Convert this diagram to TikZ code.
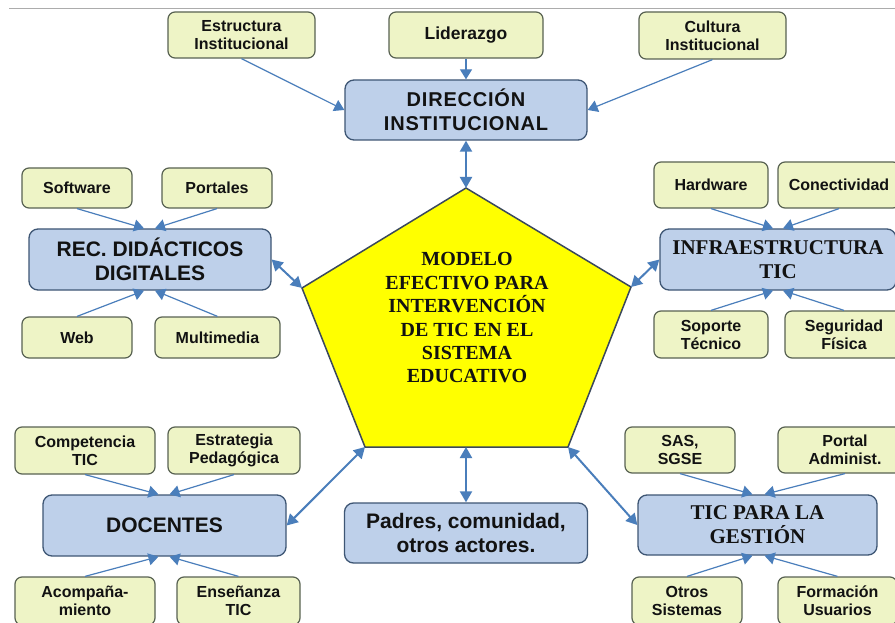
\documentclass[tikz,border=0pt]{standalone}
\usepackage{fontspec}
\setmainfont{Liberation Sans}
\newfontfamily\serifb{Liberation Serif}
\newfontfamily\spaced{Liberation Sans}[LetterSpace=4]
\usetikzlibrary{arrows.meta}
\definecolor{smallfill}{RGB}{238,244,198}
\definecolor{smallline}{RGB}{88,98,82}
\definecolor{bigfill}{RGB}{190,208,234}
\definecolor{bigline}{RGB}{62,86,116}
\definecolor{penta}{RGB}{255,255,0}
\definecolor{pentaline}{RGB}{58,72,92}
\definecolor{arrowc}{RGB}{74,126,187}
\definecolor{txt}{RGB}{18,18,18}
\tikzset{
  smallbox/.style={draw=smallline, fill=smallfill, rounded corners=7pt, line width=1.2pt,
    font=\bfseries\fontsize{16}{18}\selectfont, text=txt, align=center, inner sep=0pt},
  bigbox/.style={draw=bigline, fill=bigfill, rounded corners=9pt, line width=1.3pt,
    font=\bfseries\fontsize{21}{24}\selectfont, text=txt, align=center, inner sep=0pt},
  serifbig/.style={font=\serifb\bfseries\fontsize{21}{24}\selectfont},
  feed/.style={draw=arrowc, line width=1.2pt, -{Triangle[length=10pt,width=12pt]}},
  link/.style={draw=arrowc, line width=2pt, {Triangle[length=11pt,width=12pt]}-{Triangle[length=11pt,width=12pt]}}
}
\begin{document}
\begin{tikzpicture}[x=1pt,y=-1pt]
\useasboundingbox (0,0) rectangle (895,623);
\fill[white] (0,0) rectangle (895,623);
\draw[gray!65, line width=1pt] (9,9) -- (895,9);

% pentagon
\coordinate (p1) at (466,188);
\coordinate (p2) at (302,288);
\coordinate (p3) at (631,287);
\coordinate (p4) at (365,447);
\coordinate (p5) at (568,447);
\coordinate (pb) at (466,447);
\filldraw[fill=penta, draw=pentaline, line width=1.5pt, line join=miter] (p1) -- (p3) -- (p5) -- (p4) -- (p2) -- cycle;
\node[font=\serifb\bfseries\fontsize{20}{23.4}\selectfont, text=txt, align=center] (model) at (467,318)
  {MODELO\\EFECTIVO PARA\\INTERVENCIÓN\\DE TIC EN EL\\SISTEMA\\EDUCATIVO};

% top group
\node[smallbox, minimum width=147pt, minimum height=46pt] (est) at (241.5,35) {Estructura\\Institucional};
\node[smallbox, minimum width=154pt, minimum height=46pt, font=\bfseries\fontsize{17.5}{20}\selectfont] (lid) at (466,35) {Liderazgo};
\node[smallbox, minimum width=147pt, minimum height=47pt] (cul) at (712.5,35.5) {Cultura\\Institucional};
\node[bigbox, minimum width=242pt, minimum height=60pt, font=\spaced\bfseries\fontsize{20}{24}\selectfont] (dir) at (466,110) {DIRECCIÓN\\INSTITUCIONAL};

% left group
\node[smallbox, minimum width=110pt, minimum height=40pt] (sw) at (77,188) {Software};
\node[smallbox, minimum width=110pt, minimum height=40pt] (por) at (217,188) {Portales};
\node[bigbox, minimum width=242pt, minimum height=61pt] (rec) at (150,259.5) {REC. DIDÁCTICOS\\DIGITALES};
\node[smallbox, minimum width=110pt, minimum height=41pt] (web) at (77,337.5) {Web};
\node[smallbox, minimum width=125pt, minimum height=41pt] (mul) at (217.5,337.5) {Multimedia};

% right group
\node[smallbox, minimum width=114pt, minimum height=46pt] (hw) at (711,185) {Hardware};
\node[smallbox, minimum width=122pt, minimum height=46pt] (con) at (839,185) {Conectividad};
\node[bigbox, serifbig, minimum width=236pt, minimum height=61pt] (inf) at (778,259.5) {INFRAESTRUCTURA\\TIC};
\node[smallbox, minimum width=114pt, minimum height=47pt] (sop) at (711,334.5) {Soporte\\Técnico};
\node[smallbox, minimum width=118pt, minimum height=47pt] (seg) at (844,334.5) {Seguridad\\Física};

% bottom-left group
\node[smallbox, minimum width=140pt, minimum height=47pt] (comp) at (85,450.5) {Competencia\\TIC};
\node[smallbox, minimum width=132pt, minimum height=47pt] (estr) at (234,450.5) {Estrategia\\Pedagógica};
\node[bigbox, minimum width=243pt, minimum height=61pt] (doc) at (164.5,525.5) {DOCENTES};
\node[smallbox, minimum width=140pt, minimum height=48pt] (aco) at (85,601) {Acompaña-\\miento};
\node[smallbox, minimum width=123pt, minimum height=48pt] (ens) at (238.5,601) {Enseñanza\\TIC};

% bottom-middle
\node[bigbox, minimum width=243pt, minimum height=60pt] (pad) at (466,533) {Padres, comunidad,\\otros actores.};

% bottom-right group
\node[smallbox, minimum width=110pt, minimum height=46pt] (sas) at (680,450) {SAS,\\SGSE};
\node[smallbox, minimum width=134pt, minimum height=46pt] (pa) at (845,450) {Portal\\Administ.};
\node[bigbox, serifbig, minimum width=239pt, minimum height=60pt] (gest) at (757.5,525) {TIC PARA LA\\GESTIÓN};
\node[smallbox, minimum width=110pt, minimum height=48pt] (otr) at (687,601) {Otros\\Sistemas};
\node[smallbox, minimum width=119pt, minimum height=48pt] (for) at (837.5,601) {Formación\\Usuarios};

% feeder arrows
\draw[feed] (est.south) -- (dir.west);
\draw[feed] (lid.south) -- (dir.north);
\draw[feed] (cul.south) -- (dir.east);

\draw[feed] (sw.south) -- ([xshift=-6pt]rec.north);
\draw[feed] (por.south) -- ([xshift=5pt]rec.north);
\draw[feed] (web.north) -- ([xshift=-6pt]rec.south);
\draw[feed] (mul.north) -- ([xshift=5pt]rec.south);

\draw[feed] (hw.south) -- ([xshift=-5pt]inf.north);
\draw[feed] (con.south) -- ([xshift=5pt]inf.north);
\draw[feed] (sop.north) -- ([xshift=-5pt]inf.south);
\draw[feed] (seg.north) -- ([xshift=5pt]inf.south);

\draw[feed] (comp.south) -- ([xshift=-6pt]doc.north);
\draw[feed] (estr.south) -- ([xshift=5pt]doc.north);
\draw[feed] (aco.north) -- ([xshift=-6pt]doc.south);
\draw[feed] (ens.north) -- ([xshift=5pt]doc.south);

\draw[feed] (sas.south) -- ([xshift=-5pt]gest.north);
\draw[feed] (pa.south) -- ([xshift=7pt]gest.north);
\draw[feed] (otr.north) -- ([xshift=-5pt]gest.south);
\draw[feed] (for.north) -- ([xshift=7pt]gest.south);

% links to the model
\draw[link] (dir.south) -- (p1);
\draw[link] (rec.east) -- (p2);
\draw[link] (inf.west) -- (p3);
\draw[link] (doc.east) -- (p4);
\draw[link] (pad.north) -- (pb);
\draw[link] (gest.west) -- (p5);
\end{tikzpicture}
\end{document}
